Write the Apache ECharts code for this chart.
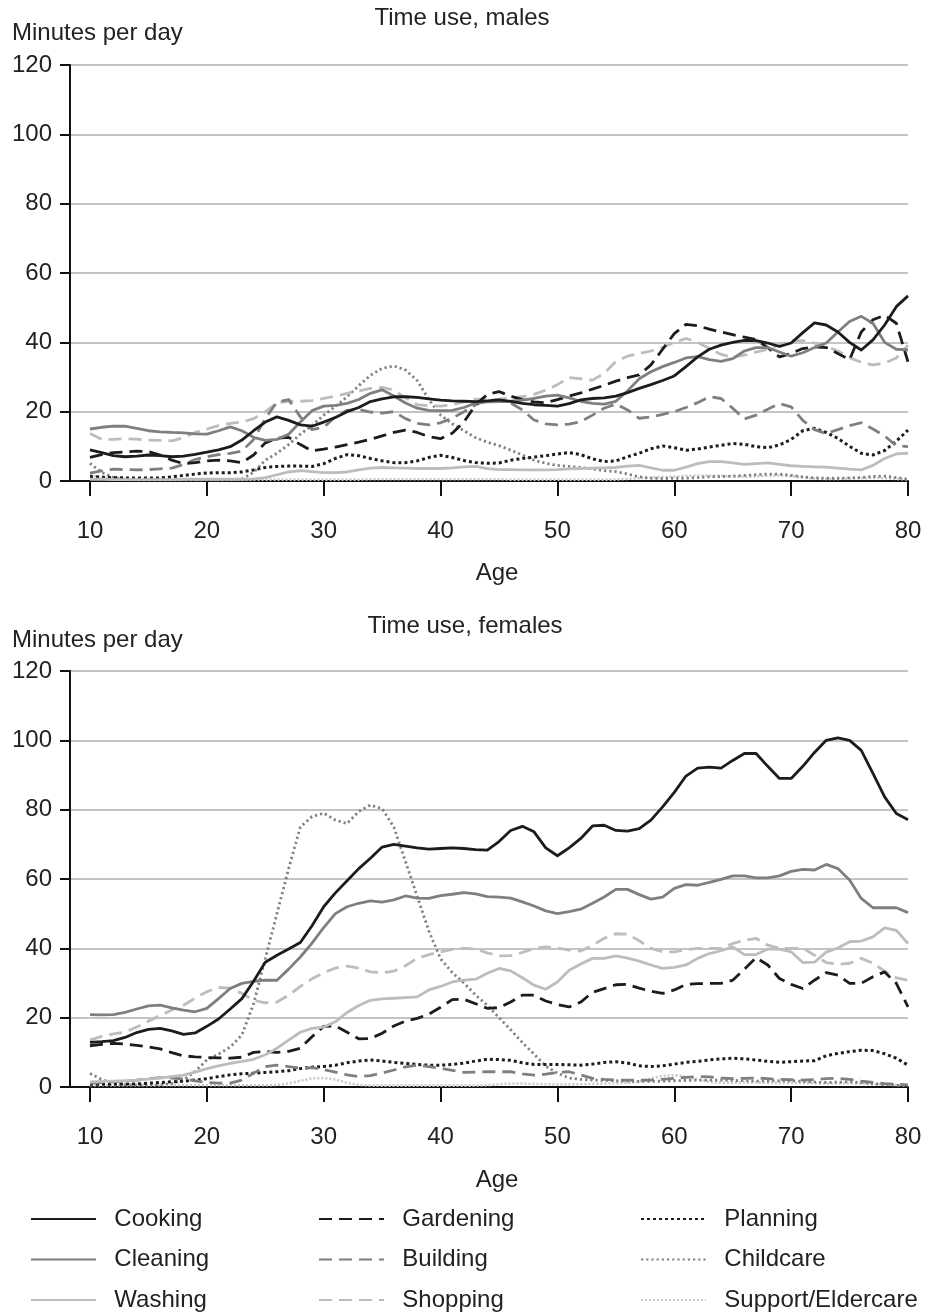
<!DOCTYPE html>
<html>
<head>
<meta charset="utf-8">
<script src="https://cdn.jsdelivr.net/npm/echarts@6/dist/echarts.min.js"></script>
<style>
html,body{margin:0;padding:0;background:#fff;}
#chart{width:928px;height:1315px;}
</style>
</head>
<body>
<div id="chart"></div>
<script>
// Ages 10..80
const ages = [];
for (let a = 10; a <= 80; a++) ages.push(a);
const xTicks = [10, 20, 30, 40, 50, 60, 70, 80];
const seriesNames = ['Cooking','Cleaning','Washing','Gardening','Building','Shopping','Planning','Childcare','Support/Eldercare'];

// ---------- Males ----------
const cookingM = [9.0,8.2,7.3,7.0,7.2,7.5,7.3,7.0,7.2,7.7,8.3,9.0,9.9,11.8,14.5,17.0,18.5,17.5,16.2,15.8,17.0,18.3,20.0,21.2,22.9,23.7,24.3,24.3,24.1,23.7,23.3,23.1,23.0,22.9,23.1,23.4,23.0,22.4,22.0,21.8,21.6,22.3,23.4,23.8,24.0,24.5,25.5,26.7,27.8,29.0,30.3,33.0,35.8,38.0,39.2,40.0,40.6,40.5,39.8,38.8,39.8,42.8,45.6,45.0,43.0,40.0,37.8,40.7,45.0,50.3,53.4];
const cleaningM = [15.0,15.5,15.8,15.8,15.2,14.5,14.2,14.0,13.9,13.6,13.5,14.5,15.6,14.5,12.6,11.7,12.0,13.5,17.0,20.3,21.6,21.8,22.4,23.5,25.3,26.3,24.5,22.5,21.0,20.4,20.3,20.4,21.2,22.5,22.8,22.9,23.0,23.3,23.8,24.5,24.8,24.0,23.0,22.4,22.2,23.0,26.0,29.5,31.5,33.0,34.2,35.5,35.9,35.0,34.5,35.3,37.5,38.5,38.5,37.2,36.0,37.0,38.5,39.8,43.0,46.0,47.5,45.5,40.0,38.0,37.8];
const washingM = [0.5,0.5,0.4,0.4,0.4,0.4,0.4,0.4,0.5,0.5,0.5,0.5,0.5,0.5,0.6,1.0,1.8,2.6,3.0,2.7,2.4,2.4,2.6,3.2,3.7,3.9,3.8,3.7,3.6,3.6,3.6,3.8,4.1,4.2,3.6,3.3,3.3,3.2,3.2,3.2,3.3,3.5,3.6,3.7,3.8,3.9,4.3,4.5,3.8,3.1,3.1,4.0,5.0,5.6,5.6,5.2,4.8,5.0,5.2,4.8,4.4,4.2,4.1,4.0,3.7,3.4,3.2,4.5,6.5,7.8,8.0];
const gardeningM = [6.8,7.6,8.2,8.4,8.6,8.5,7.5,6.0,5.0,5.3,5.8,6.0,5.8,5.3,7.5,11.0,12.3,12.6,10.5,8.7,9.2,9.8,10.5,11.2,12.0,13.0,14.0,14.7,14.0,12.8,12.2,13.8,17.0,22.0,25.0,25.8,24.5,23.5,22.8,22.6,23.5,24.5,25.4,26.5,27.6,28.8,29.8,30.6,33.5,38.0,42.5,45.2,44.8,43.8,43.0,42.2,41.5,40.8,38.5,35.8,36.8,38.2,38.7,38.5,36.8,35.0,43.0,46.5,47.8,45.5,34.4];
const buildingM = [2.3,2.9,3.4,3.3,3.2,3.3,3.5,3.7,4.8,6.2,7.0,7.6,8.0,8.6,12.0,18.0,22.8,23.5,18.5,14.8,15.5,18.5,20.4,20.6,19.9,19.6,20.0,18.0,16.6,16.2,16.8,18.1,20.0,22.0,23.4,23.2,22.5,20.5,17.6,16.5,16.2,16.4,17.1,19.0,21.0,22.2,20.5,18.1,18.5,19.2,20.0,21.2,22.6,24.3,23.8,21.0,17.9,19.0,20.7,22.3,21.4,17.5,14.8,13.7,14.8,16.0,16.8,15.0,13.0,10.2,9.9];
const shoppingM = [13.7,12.0,12.0,12.2,12.1,11.8,11.7,11.6,12.5,14.0,15.0,16.0,16.6,17.0,18.0,20.0,22.5,23.0,23.0,23.2,23.8,24.5,25.3,26.0,26.7,27.0,26.2,24.0,22.0,21.7,21.6,22.0,22.8,23.6,23.5,23.6,24.0,24.3,25.0,26.2,27.8,29.8,29.5,29.1,31.0,34.5,36.0,36.8,37.5,38.5,40.0,41.1,40.0,38.2,36.5,35.7,36.3,37.2,38.0,39.3,40.5,40.5,39.8,38.9,37.5,35.6,34.2,33.5,34.0,35.5,39.2];
const planningM = [1.3,1.1,1.0,0.9,0.9,0.9,0.9,1.2,1.6,2.0,2.3,2.4,2.4,2.6,3.2,3.9,4.2,4.3,4.3,4.2,5.0,6.5,7.6,7.3,6.5,5.8,5.3,5.3,5.8,6.8,7.4,6.8,5.9,5.3,5.1,5.2,6.0,6.5,6.9,7.3,7.8,8.2,7.6,6.4,5.6,5.8,7.0,8.0,9.3,10.1,9.6,8.9,9.2,9.8,10.3,10.8,10.6,9.9,9.6,10.4,12.0,14.5,15.2,14.0,12.3,10.0,8.0,7.5,8.8,11.5,14.7];
const childcareM = [5.1,2.5,1.0,0.5,0.3,0.3,0.3,0.3,0.3,0.3,0.3,0.3,0.4,0.6,2.5,6.0,8.0,10.5,13.5,16.0,19.0,21.5,24.3,27.5,30.5,32.5,33.2,32.0,29.0,23.5,19.0,16.5,14.5,12.5,11.2,10.2,8.9,7.5,6.0,5.1,4.5,4.2,3.9,3.5,3.0,2.7,2.0,1.2,0.8,0.7,0.8,0.8,1.0,1.2,1.3,1.4,1.6,1.8,2.0,2.0,1.6,1.2,0.9,0.8,0.8,0.9,1.0,1.3,1.4,1.0,0.5];
const supportM = [1.8,1.0,0.5,0.4,0.4,0.4,0.4,0.4,0.4,0.4,0.4,0.4,0.4,0.4,0.4,0.4,0.4,0.4,0.4,0.4,0.4,0.4,0.4,0.4,0.5,0.5,0.5,0.5,0.5,0.5,0.5,0.5,0.5,0.5,0.5,0.5,0.4,0.4,0.4,0.4,0.4,0.4,0.4,0.4,0.4,0.4,0.6,0.8,1.0,1.2,1.3,1.5,1.6,1.6,1.5,1.3,1.2,1.3,1.5,1.6,1.4,1.0,0.7,0.6,0.6,0.7,0.8,0.9,0.8,0.6,0.4];

// ---------- Females ----------
const cookingF = [12.9,13.1,13.4,14.3,15.7,16.6,16.9,16.2,15.2,15.6,17.5,19.6,22.5,25.5,30.5,36.0,38.0,39.8,41.7,46.5,52.0,56.0,59.5,63.0,66.0,69.2,70.0,69.5,69.0,68.6,68.8,69.0,68.8,68.5,68.3,70.8,74.0,75.2,73.6,69.0,66.7,69.0,71.7,75.3,75.5,74.0,73.8,74.5,77.0,80.8,85.0,89.7,92.0,92.3,92.0,94.2,96.2,96.2,92.5,89.0,89.0,92.5,96.5,100.0,100.7,100.0,97.1,90.5,83.7,78.9,77.1];
const cleaningF = [20.9,20.8,20.9,21.5,22.5,23.4,23.6,22.8,22.2,21.7,22.7,25.5,28.4,29.9,30.5,30.8,30.8,34.0,37.5,41.5,46.0,50.0,52.0,53.0,53.7,53.3,54.0,55.1,54.5,54.4,55.2,55.6,56.1,55.7,54.9,54.8,54.5,53.4,52.2,50.8,50.0,50.6,51.3,53.0,54.8,57.0,57.0,55.5,54.2,54.8,57.3,58.4,58.2,59.0,59.9,60.9,60.9,60.3,60.3,60.9,62.2,62.8,62.6,64.2,63.0,59.7,54.4,51.7,51.7,51.7,50.3];
const washingF = [1.5,1.6,1.7,1.8,2.0,2.3,2.6,3.0,3.4,4.3,5.3,6.1,6.8,7.4,8.0,9.3,11.2,13.5,15.8,16.9,17.3,18.8,21.5,23.5,25.0,25.4,25.6,25.8,26.0,28.0,29.0,30.3,30.8,31.1,32.8,34.2,33.5,31.5,29.4,28.2,30.3,33.7,35.5,37.1,37.1,37.8,37.2,36.3,35.2,34.2,34.5,35.2,37.1,38.5,39.3,40.4,38.2,38.2,39.8,39.8,39.0,35.9,36.0,38.9,40.1,41.9,42.1,43.3,45.9,45.2,41.4];
const gardeningF = [11.9,12.3,12.6,12.4,12.0,11.6,11.0,9.9,9.0,8.7,8.5,8.4,8.3,8.6,10.0,10.2,10.0,10.3,11.2,14.5,17.5,17.6,15.8,13.9,14.0,15.5,17.6,19.0,19.8,21.0,23.0,25.2,25.3,24.0,22.7,22.9,24.5,26.5,26.5,24.8,23.8,23.1,24.5,27.3,28.4,29.5,29.6,28.5,27.6,27.0,28.0,29.6,29.8,29.9,29.9,30.8,34.0,37.3,35.2,31.3,29.6,28.4,30.8,33.0,32.3,29.9,29.9,31.8,33.2,29.9,23.1];
const buildingF = [1.1,1.3,1.5,1.7,2.0,2.4,2.7,2.6,2.3,1.8,1.3,1.1,1.1,2.0,4.0,5.9,6.3,5.9,5.4,5.6,5.0,4.3,3.5,3.0,3.3,4.0,4.9,5.8,6.3,5.9,5.4,4.8,4.2,4.3,4.4,4.4,4.4,3.8,3.4,3.7,4.2,4.4,3.5,2.5,2.2,2.0,2.0,2.0,2.0,2.2,2.5,2.8,3.0,2.9,2.6,2.4,2.5,2.6,2.4,2.2,2.1,2.0,2.1,2.4,2.5,2.2,1.7,1.3,1.0,0.8,0.6];
const shoppingF = [13.5,14.6,15.3,15.8,17.3,19.0,20.6,22.2,23.6,25.6,27.5,28.7,28.5,27.0,25.0,24.3,24.5,26.5,29.0,31.2,33.0,34.3,34.9,34.3,33.2,33.0,33.4,35.0,37.1,38.2,39.0,39.7,40.0,39.8,38.7,37.8,37.9,38.8,40.0,40.4,40.1,39.5,39.2,40.8,42.9,44.2,44.1,42.2,40.0,39.0,39.0,39.6,40.0,40.0,40.0,41.4,42.3,42.9,40.9,40.0,40.0,40.1,38.0,35.9,35.4,35.7,37.1,35.7,33.4,31.5,30.8];
const planningF = [0.8,0.8,0.8,0.9,0.9,1.1,1.3,1.5,1.7,2.0,2.4,3.0,3.5,3.8,4.0,4.2,4.4,4.7,5.3,5.7,5.9,6.3,7.0,7.5,7.8,7.5,7.1,6.8,6.5,6.3,6.3,6.5,6.9,7.5,8.0,7.9,7.7,7.0,6.5,6.5,6.5,6.4,6.3,6.6,7.1,7.3,6.9,6.1,5.9,6.1,6.6,7.1,7.4,7.8,8.1,8.3,8.1,7.8,7.4,7.1,7.3,7.5,7.6,9.0,9.7,10.2,10.6,10.5,9.6,8.3,6.3];
const childcareF = [3.9,2.2,1.0,0.7,0.6,0.6,0.7,1.0,2.0,4.5,7.8,9.5,11.5,15.0,24.0,37.0,50.0,63.0,75.0,78.0,79.0,77.0,76.0,79.5,81.3,80.3,75.0,65.0,55.0,45.0,37.0,33.0,30.0,26.5,23.6,20.0,16.5,12.8,9.5,6.0,4.0,2.6,2.2,2.0,1.9,1.8,1.7,1.6,1.6,1.7,1.8,1.9,2.0,2.0,2.0,1.9,1.8,1.7,1.7,1.8,1.8,1.6,1.4,1.3,1.4,1.5,1.3,1.0,0.7,0.5,0.4];
const supportF = [0.5,0.5,0.5,0.5,0.5,0.5,0.5,0.5,0.5,0.5,0.5,0.5,0.5,0.5,0.5,0.5,0.6,1.0,1.8,2.5,2.6,2.2,1.2,0.6,0.4,0.4,0.4,0.4,0.4,0.4,0.4,0.4,0.4,0.4,0.5,0.8,1.0,1.0,0.9,0.8,0.7,0.7,0.8,0.9,1.0,1.1,1.2,1.5,2.5,3.2,3.4,3.0,2.2,1.5,1.2,1.2,1.3,1.3,1.2,1.2,1.2,1.1,1.1,1.0,1.0,1.0,0.9,0.8,0.7,0.6,0.5];

const males = [cookingM, cleaningM, washingM, gardeningM, buildingM, shoppingM, planningM, childcareM, supportM];
const females = [cookingF, cleaningF, washingF, gardeningF, buildingF, shoppingF, planningF, childcareF, supportF];

const FONT = '"Liberation Sans", Arial, Helvetica, sans-serif';
const TXT = '#222222';
const BLACK = '#1c1c1c', MID = '#7f7f7f', LIGHT = '#bdbdbd';
const styles = [
  {color: BLACK, type: 'solid', width: 2.8},
  {color: MID, type: 'solid', width: 2.8},
  {color: LIGHT, type: 'solid', width: 2.8},
  {color: BLACK, type: [13, 7], width: 2.8},
  {color: MID, type: [13, 7], width: 2.8},
  {color: LIGHT, type: [13, 7], width: 2.8},
  {color: BLACK, type: [3, 3], width: 3},
  {color: '#808080', type: [2.2, 3], width: 2.8},
  {color: '#c8c8c8', type: [2, 2], width: 2.6}
];

function makeSeries(arrs, idx) {
  return arrs.map((arr, i) => ({
    name: seriesNames[i],
    type: 'line',
    xAxisIndex: idx,
    yAxisIndex: idx,
    symbol: 'none',
    showSymbol: false,
    animation: false,
    z: 10 - i,
    lineStyle: {color: styles[i].color, type: styles[i].type, width: styles[i].width, cap: 'butt', join: 'round'},
    itemStyle: {color: styles[i].color},
    data: ages.map((a, k) => [a, arr[k]])
  }));
}

function xAxis(idx) {
  return {
    type: 'value', gridIndex: idx, min: 8.29, max: 80,
    axisLine: {show: true, onZero: false, lineStyle: {color: '#111', width: 2}},
    axisTick: {show: true, length: 15, lineStyle: {color: '#111', width: 2}, customValues: xTicks},
    axisLabel: {customValues: xTicks, margin: 50, verticalAlign: 'middle', fontSize: 24, fontFamily: FONT, color: TXT},
    splitLine: {show: false}
  };
}
function yAxis(idx) {
  return {
    type: 'value', gridIndex: idx, min: 0, max: 120, interval: 20,
    axisLine: {show: true, lineStyle: {color: '#111', width: 2}},
    axisTick: {show: true, length: 10, lineStyle: {color: '#111', width: 2}},
    axisLabel: {margin: 18, fontSize: 24, fontFamily: FONT, color: TXT},
    splitLine: {show: true, lineStyle: {color: '#c4c4c4', width: 2}}
  };
}

function legendCol(left, names) {
  return {
    orient: 'vertical', left: left, top: 1207, padding: 0,
    itemWidth: 65, itemHeight: 24, itemGap: 16.5,
    data: names,
    formatter: n => '  ' + n,
    itemStyle: {opacity: 0},
    textStyle: {fontSize: 24, fontFamily: FONT, color: TXT, lineHeight: 24},
    selectedMode: false
  };
}

function txt(x, y, s, align) {
  return {type: 'text', x: x, y: y, silent: true,
    style: {text: s, fontSize: 24, fontFamily: FONT, fill: TXT, textAlign: align, textVerticalAlign: 'middle'}};
}

const chart = echarts.init(document.getElementById('chart'), null, {renderer: 'canvas'});
chart.setOption({
  backgroundColor: '#ffffff',
  animation: false,
  grid: [
    {left: 70, right: 20, top: 65, height: 416},
    {left: 70, right: 20, top: 671, height: 416}
  ],
  xAxis: [xAxis(0), xAxis(1)],
  yAxis: [yAxis(0), yAxis(1)],
  legend: [
    legendCol(30, seriesNames.slice(0, 3)),
    legendCol(318, seriesNames.slice(3, 6)),
    legendCol(640, seriesNames.slice(6, 9))
  ],
  graphic: [
    txt(462, 18, 'Time use, males', 'center'),
    txt(12, 33, 'Minutes per day', 'left'),
    txt(497, 573, 'Age', 'center'),
    txt(465, 626, 'Time use, females', 'center'),
    txt(12, 640, 'Minutes per day', 'left'),
    txt(497, 1180, 'Age', 'center')
  ],
  series: makeSeries(males, 0).concat(makeSeries(females, 1))
});
</script>
</body>
</html>
